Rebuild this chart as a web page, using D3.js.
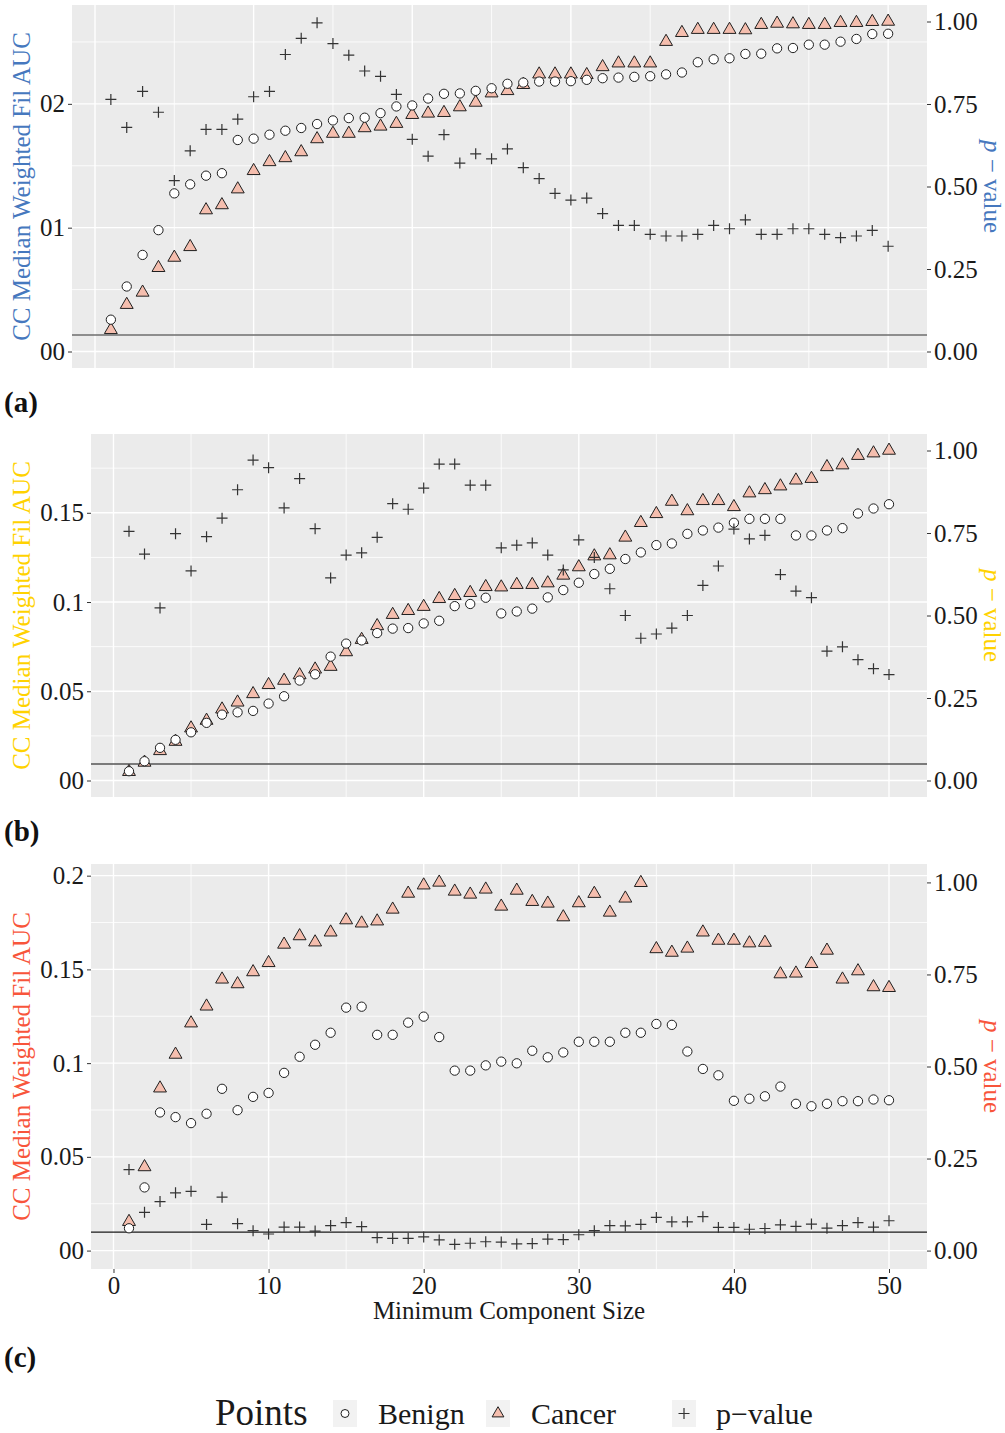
<!DOCTYPE html>
<html>
<head>
<meta charset="utf-8">
<script src="https://cdn.jsdelivr.net/npm/d3@7"></script>
<style>
  body { margin: 0; background: #fff; }
  svg { display: block; }
  svg text { font-family: "Liberation Serif", "Times New Roman", Tinos, "DejaVu Serif", serif; }
</style>
</head>
<body>
<svg id="fig" width="1005" height="1433"></svg>
<script>
// Minimum component size used for each run
const componentSizes = [1, 2, 3, 4, 5, 6, 7, 8, 9, 10, 11, 12, 13, 14, 15, 16, 17, 18, 19, 20,
  21, 22, 23, 24, 25, 26, 27, 28, 29, 30, 31, 32, 33, 34, 35, 36, 37, 38, 39, 40,
  41, 42, 43, 44, 45, 46, 47, 48, 49, 50];

// (a) CC median weighted filtration AUC
const benignA = [0.0257, 0.0525, 0.078, 0.098, 0.1277, 0.135, 0.142, 0.144, 0.1708, 0.1719,
  0.1751, 0.1783, 0.1805, 0.1837, 0.1866, 0.1885, 0.1888, 0.1925, 0.1979, 0.1987,
  0.2043, 0.2081, 0.2084, 0.2105, 0.2126, 0.2162, 0.2172, 0.218, 0.218, 0.2183,
  0.2194, 0.2207, 0.2212, 0.2218, 0.2223, 0.2238, 0.2253, 0.2336, 0.236, 0.2368,
  0.2403, 0.2405, 0.2448, 0.2451, 0.2478, 0.2478, 0.2502, 0.2524, 0.2564, 0.2566];
const cancerA = [0.0175, 0.0378, 0.0477, 0.0676, 0.0759, 0.0845, 0.1142, 0.1183, 0.1311, 0.1459,
  0.1531, 0.1563, 0.1611, 0.1716, 0.176, 0.176, 0.1805, 0.1818, 0.184, 0.1912,
  0.1923, 0.1928, 0.1974, 0.2011, 0.2086, 0.2105, 0.2154, 0.2239, 0.2239, 0.2239,
  0.2234, 0.2298, 0.2328, 0.2328, 0.2328, 0.2502, 0.2574, 0.2599, 0.2599, 0.2599,
  0.2596, 0.2639, 0.2649, 0.2644, 0.2639, 0.2639, 0.2655, 0.2655, 0.2663, 0.2665];
const pValueA = [0.764, 0.679, 0.788, 0.725, 0.518, 0.608, 0.673, 0.673, 0.704, 0.772,
  0.788, 0.9, 0.949, 0.996, 0.933, 0.898, 0.85, 0.834, 0.779, 0.643,
  0.592, 0.657, 0.571, 0.599, 0.584, 0.614, 0.557, 0.524, 0.479, 0.459,
  0.465, 0.418, 0.382, 0.382, 0.355, 0.35, 0.35, 0.355, 0.382, 0.372,
  0.399, 0.355, 0.355, 0.372, 0.372, 0.355, 0.345, 0.35, 0.367, 0.319];

// (b)
const benignB = [0.0052, 0.0108, 0.0183, 0.0228, 0.027, 0.0323, 0.0369, 0.0382, 0.039, 0.0431,
  0.0472, 0.056, 0.0595, 0.0694, 0.0767, 0.0785, 0.0826, 0.0851, 0.0854, 0.088,
  0.0895, 0.0977, 0.0989, 0.1024, 0.0936, 0.0947, 0.0963, 0.1026, 0.1067, 0.1108,
  0.1157, 0.1186, 0.1241, 0.1278, 0.1319, 0.1328, 0.1382, 0.1401, 0.1417, 0.1444,
  0.1466, 0.1466, 0.1466, 0.1373, 0.1373, 0.1401, 0.1414, 0.1496, 0.1524, 0.1548];
const cancerB = [0.0049, 0.0101, 0.0166, 0.0218, 0.0293, 0.0336, 0.0399, 0.0438, 0.0485, 0.0536,
  0.056, 0.0591, 0.0623, 0.0638, 0.072, 0.0789, 0.0866, 0.0929, 0.0951, 0.0974,
  0.1018, 0.1035, 0.1052, 0.1085, 0.1083, 0.1097, 0.1097, 0.1106, 0.1149, 0.1196,
  0.1257, 0.1263, 0.1362, 0.1444, 0.1494, 0.1563, 0.151, 0.1567, 0.1567, 0.1533,
  0.161, 0.1628, 0.1649, 0.1682, 0.1691, 0.1757, 0.1767, 0.182, 0.1834, 0.1849];
const pValueB = [0.755, 0.686, 0.523, 0.748, 0.635, 0.739, 0.795, 0.881, 0.971, 0.948,
  0.826, 0.915, 0.763, 0.614, 0.683, 0.69, 0.737, 0.839, 0.822, 0.886,
  0.959, 0.959, 0.895, 0.895, 0.705, 0.713, 0.72, 0.683, 0.638, 0.729,
  0.676, 0.581, 0.5, 0.431, 0.444, 0.462, 0.5, 0.591, 0.65, 0.762,
  0.732, 0.743, 0.624, 0.574, 0.554, 0.392, 0.405, 0.366, 0.339, 0.321];

// (c)
const benignC = [0.0119, 0.0337, 0.0737, 0.0712, 0.068, 0.073, 0.0863, 0.0749, 0.082, 0.0841,
  0.0948, 0.1034, 0.1098, 0.1162, 0.1296, 0.1301, 0.1151, 0.1151, 0.1216, 0.1248,
  0.1139, 0.096, 0.096, 0.0988, 0.1008, 0.0999, 0.1066, 0.1031, 0.1057, 0.1114,
  0.1114, 0.1114, 0.1162, 0.1162, 0.1209, 0.1204, 0.1062, 0.0969, 0.0935, 0.0799,
  0.081, 0.0823, 0.0875, 0.0783, 0.077, 0.0783, 0.0797, 0.0797, 0.0806, 0.0802];
const cancerC = [0.0154, 0.0446, 0.0866, 0.1046, 0.1213, 0.1303, 0.1447, 0.1422, 0.1486, 0.1535,
  0.1633, 0.1678, 0.1645, 0.1698, 0.1763, 0.1746, 0.1757, 0.182, 0.1905, 0.1949,
  0.1964, 0.1916, 0.19, 0.1927, 0.1836, 0.1921, 0.1861, 0.1852, 0.1779, 0.1854,
  0.1904, 0.1804, 0.1879, 0.1962, 0.1609, 0.159, 0.1612, 0.1698, 0.1654, 0.1654,
  0.164, 0.1643, 0.1475, 0.1479, 0.153, 0.1601, 0.1447, 0.1491, 0.1406, 0.1402];
const pValueC = [0.22, 0.104, 0.133, 0.157, 0.161, 0.071, 0.145, 0.073, 0.054, 0.045,
  0.064, 0.064, 0.053, 0.068, 0.076, 0.065, 0.035, 0.033, 0.033, 0.037,
  0.029, 0.017, 0.02, 0.024, 0.023, 0.018, 0.019, 0.031, 0.03, 0.043,
  0.054, 0.068, 0.067, 0.071, 0.09, 0.078, 0.078, 0.092, 0.063, 0.063,
  0.058, 0.06, 0.07, 0.066, 0.072, 0.061, 0.068, 0.076, 0.064, 0.081];

// Axis ticks and labels
const leftTicksA = [0, 0.1, 0.2];
const leftTickLabelsA = ["00", "01", "02"];
const leftTicksB = [0, 0.05, 0.1, 0.15];
const leftTickLabelsB = ["00", "0.05", "0.1", "0.15"];
const leftTicksC = [0, 0.05, 0.1, 0.15, 0.2];
const leftTickLabelsC = ["00", "0.05", "0.1", "0.15", "0.2"];
const pTicks = [0, 0.25, 0.5, 0.75, 1];
const pTickLabels = ["0.00", "0.25", "0.50", "0.75", "1.00"];
const xTicks = [0, 10, 20, 30, 40, 50];
const significance = 0.05;

const yTitle = "CC Median Weighted Fil AUC";
const xTitle = "Minimum Component Size";
const legendTitle = "Points";
const legendLabels = ["Benign", "Cancer", "p\u2212value"];

const FONT = '"Liberation Serif", "Times New Roman", Tinos, "DejaVu Serif", serif';

// Panel layout and styling
const panels = [
  { tag: "(a)", benign: benignA, cancer: cancerA, p: pValueA, ticks: leftTicksA, labels: leftTickLabelsA,
    color: "#4678BE", hline: "#6e6e6e", hlineW: 1.7, left: 72, top: 5, bottom: 368, tagY: 412, xAxis: false },
  { tag: "(b)", benign: benignB, cancer: cancerB, p: pValueB, ticks: leftTicksB, labels: leftTickLabelsB,
    color: "#FFD200", hline: "#555555", hlineW: 1.3, left: 91, top: 434, bottom: 797, tagY: 841, xAxis: false },
  { tag: "(c)", benign: benignC, cancer: cancerC, p: pValueC, ticks: leftTicksC, labels: leftTickLabelsC,
    color: "#F8553B", hline: "#1a1a1a", hlineW: 1.3, left: 91, top: 864, bottom: 1269, tagY: 1367, xAxis: true }
];
const panelRight = 927;
const panelBg = "#EBEBEB";
const triFill = "#F5BEAE";
const markStroke = "#1f1f1f";
const tickColor = "#333333";
const textColor = "#1a1a1a";

const svg = d3.select("#fig").attr("font-family", FONT);

const circleSym = d3.symbol().type(d3.symbolCircle).size(68);
const triSym = d3.symbol().type(d3.symbolTriangle).size(72);
const plusPath = (h) => `M${-h},0H${h}M0,${-h}V${h}`;

function midpoints(ticks, lo, hi) {
  const step = ticks[1] - ticks[0];
  const out = [];
  for (let i = -1; i < ticks.length; i++) {
    const m = ticks[0] + (i + 0.5) * step;
    if (m > lo && m < hi) out.push(m);
  }
  return out;
}

function styleAxis(a) {
  a.attr("font-family", FONT);
  a.select(".domain").remove();
  a.selectAll(".tick line").attr("stroke", tickColor);
  a.selectAll(".tick text").attr("font-size", 25).attr("fill", textColor).style("font-family", FONT);
}

panels.forEach(cfg => {
  const g = svg.append("g");
  const data = componentSizes.map((s, i) => ({ s, b: cfg.benign[i], c: cfg.cancer[i], p: cfg.p[i] }));

  // shared x scale: data range expanded by 5%
  const xr = d3.extent(componentSizes);
  const xpad = (xr[1] - xr[0]) * 0.05;
  const x = d3.scaleLinear().domain([xr[0] - xpad, xr[1] + xpad]).range([cfg.left, panelRight]);

  // secondary axis: p-value 1 maps to the largest AUC in the panel
  const k = d3.max(cfg.benign.concat(cfg.cancer));
  const ypad = k * 0.05;
  const y = d3.scaleLinear().domain([-ypad, k + ypad]).range([cfg.bottom, cfg.top]);
  const yp = d3.scaleLinear().domain([-ypad / k, (k + ypad) / k]).range([cfg.bottom, cfg.top]);
  const yd = y.domain();

  // panel background
  g.append("rect").attr("x", cfg.left).attr("y", cfg.top)
    .attr("width", panelRight - cfg.left).attr("height", cfg.bottom - cfg.top)
    .attr("fill", panelBg);

  // grid lines
  const grid = g.append("g").attr("stroke", "#fff").attr("fill", "none");
  const xd = x.domain();
  midpoints(cfg.ticks, yd[0], yd[1]).forEach(v =>
    grid.append("line").attr("x1", cfg.left).attr("x2", panelRight)
      .attr("y1", y(v)).attr("y2", y(v)).attr("stroke-width", 0.8));
  midpoints(xTicks, xd[0], xd[1]).forEach(v =>
    grid.append("line").attr("y1", cfg.top).attr("y2", cfg.bottom)
      .attr("x1", x(v)).attr("x2", x(v)).attr("stroke-width", 0.8));
  cfg.ticks.forEach(v =>
    grid.append("line").attr("x1", cfg.left).attr("x2", panelRight)
      .attr("y1", y(v)).attr("y2", y(v)).attr("stroke-width", 1.4));
  xTicks.forEach(v =>
    grid.append("line").attr("y1", cfg.top).attr("y2", cfg.bottom)
      .attr("x1", x(v)).attr("x2", x(v)).attr("stroke-width", 1.4));

  // significance threshold
  g.append("line").attr("x1", cfg.left).attr("x2", panelRight)
    .attr("y1", yp(significance)).attr("y2", yp(significance))
    .attr("stroke", cfg.hline).attr("stroke-width", cfg.hlineW);

  // cancer triangles
  g.append("g").selectAll("path").data(data).join("path")
    .attr("d", triSym)
    .attr("transform", d => `translate(${x(d.s)},${y(d.c)})`)
    .attr("fill", triFill).attr("stroke", markStroke).attr("stroke-width", 1);

  // benign circles
  g.append("g").selectAll("path").data(data).join("path")
    .attr("d", circleSym)
    .attr("transform", d => `translate(${x(d.s)},${y(d.b)})`)
    .attr("fill", "#fff").attr("stroke", markStroke).attr("stroke-width", 1);

  // p-values
  g.append("g").selectAll("path").data(data).join("path")
    .attr("d", plusPath(5.5))
    .attr("transform", d => `translate(${x(d.s)},${yp(d.p)})`)
    .attr("fill", "none").attr("stroke", "#333").attr("stroke-width", 1.2);

  // left and right axes
  styleAxis(g.append("g").attr("transform", `translate(${cfg.left},0)`)
    .call(d3.axisLeft(y).tickValues(cfg.ticks).tickFormat((d, i) => cfg.labels[i])
      .tickSizeInner(4).tickSizeOuter(0).tickPadding(3)));
  styleAxis(g.append("g").attr("transform", `translate(${panelRight},0)`)
    .call(d3.axisRight(yp).tickValues(pTicks).tickFormat((d, i) => pTickLabels[i])
      .tickSizeInner(4).tickSizeOuter(0).tickPadding(3)));

  if (cfg.xAxis) {
    styleAxis(g.append("g").attr("transform", `translate(0,${cfg.bottom})`)
      .call(d3.axisBottom(x).tickValues(xTicks).tickSizeInner(4).tickSizeOuter(0).tickPadding(3)));
    g.append("text").attr("x", (cfg.left + panelRight) / 2).attr("y", cfg.bottom + 50)
      .attr("text-anchor", "middle").attr("font-size", 25).attr("fill", textColor)
      .text(xTitle);
  }

  const midY = (cfg.top + cfg.bottom) / 2;
  // left axis title
  g.append("text").attr("transform", `translate(30,${midY}) rotate(-90)`)
    .attr("text-anchor", "middle").attr("font-size", 25).attr("fill", cfg.color)
    .text(yTitle);
  // right axis title
  const rt = g.append("text").attr("transform", `translate(984,${midY}) rotate(90)`)
    .attr("text-anchor", "middle").attr("font-size", 25).attr("fill", cfg.color);
  rt.append("tspan").attr("font-style", "italic").text("p");
  rt.append("tspan").text(" \u2212 value");

  // panel tag
  g.append("text").attr("x", 4).attr("y", cfg.tagY)
    .attr("font-size", 29).attr("font-weight", "bold").attr("fill", "#111")
    .text(cfg.tag);
});

// legend
const lg = svg.append("g");
lg.append("text").attr("x", 215).attr("y", 1425).attr("font-size", 37).attr("fill", textColor)
  .text(legendTitle);
const keys = [
  { x: 333, draw: s => s.append("path").attr("d", d3.symbol().type(d3.symbolCircle).size(50)).attr("fill", "#fff").attr("stroke", markStroke) },
  { x: 486, draw: s => s.append("path").attr("d", d3.symbol().type(d3.symbolTriangle).size(60)).attr("fill", triFill).attr("stroke", markStroke) },
  { x: 672, draw: s => s.append("path").attr("d", plusPath(5.5)).attr("fill", "none").attr("stroke", "#333").attr("stroke-width", 1.2) }
];
const labelX = [378, 531, 716];
keys.forEach((k, i) => {
  lg.append("rect").attr("x", k.x).attr("y", 1400).attr("width", 24).attr("height", 27).attr("fill", "#F2F2F2");
  const s = lg.append("g").attr("transform", `translate(${k.x + 12},${1413.5})`);
  k.draw(s);
  lg.append("text").attr("x", labelX[i]).attr("y", 1424).attr("font-size", 30).attr("fill", textColor)
    .text(legendLabels[i]);
});
</script>
</body>
</html>
